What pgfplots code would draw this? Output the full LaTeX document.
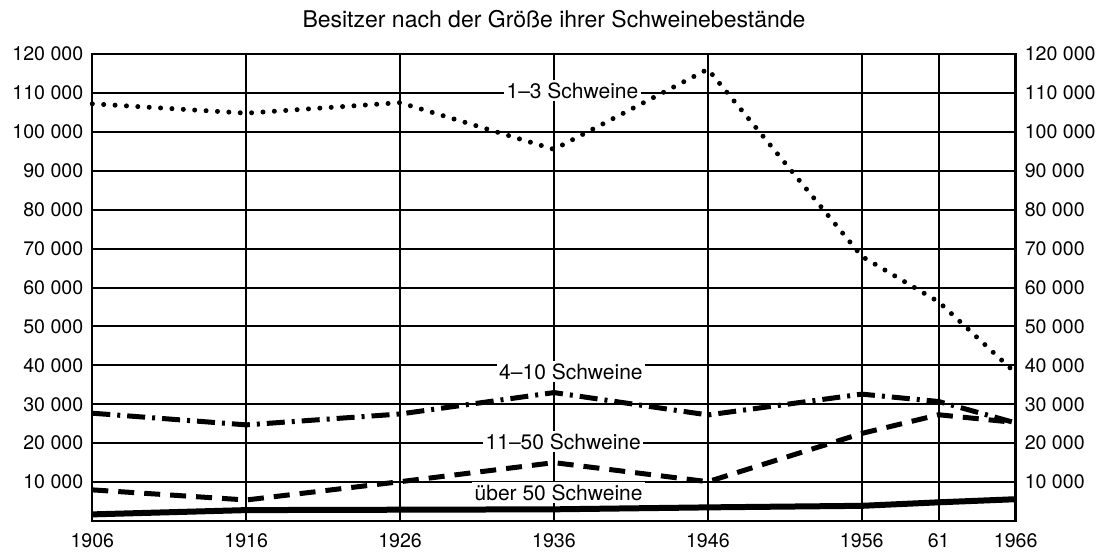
\documentclass[border=0pt]{standalone}
\usepackage{pgfplots}
\pgfplotsset{compat=1.18}
\usepackage{fontspec}
\setmainfont{TeX Gyre Heros}
\begin{document}
\begin{tikzpicture}
\useasboundingbox (-46.15pt,-16pt) rectangle (506.35pt,260.5pt);
\pgfplotsset{
  common/.style={
    at={(0,0)}, anchor=south west, scale only axis,
    width=461.7pt, height=233.5pt,
    xmin=1906, xmax=1966, ymin=0, ymax=120000,
    scaled y ticks=false,
    ytick={10000,20000,...,120000},
    yticklabels={10 000,20 000,30 000,40 000,50 000,60 000,70 000,80 000,90 000,100 000,110 000,120 000},
    tick style={draw=none},
    ticklabel style={font=\fontsize{9.8}{12}\selectfont},
    /pgf/number format/assume math mode=true,
  }
}
\begin{axis}[common,
  xtick={1906,1916,1926,1936,1946,1956,1961,1966},
  xticklabels={1906,1916,1926,1936,1946,1956,61,1966},
  xticklabel style={yshift=-3pt},
  yticklabel style={xshift=-1pt},
  grid=major, major grid style={black, line width=1pt},
  axis line style={line width=1.2pt},
  clip=false]
\addplot[black, line width=2.5pt, line cap=round, dash pattern=on 0pt off 5.7pt] coordinates {
(1906,107200) (1916,104800) (1926,107500) (1936,95500) (1946,116100) (1956,68000) (1961,56300) (1966,38000)};
\addplot[black, line width=2.5pt, dash pattern=on 9pt off 3.5pt on 1.5pt off 3.5pt] coordinates {
(1906,27700) (1916,24700) (1926,27500) (1936,33000) (1946,27250) (1956,32600) (1961,30700) (1966,25200)};
\addplot[black, line width=2.5pt, dash pattern=on 8pt off 5pt] coordinates {
(1906,8000) (1916,5400) (1926,10100) (1936,15000) (1946,10100) (1956,22500) (1961,27300) (1966,25300)};
\addplot[black, line width=3pt] coordinates {
(1906,1700) (1916,2800) (1926,2900) (1936,3000) (1946,3500) (1956,3900) (1961,4800) (1966,5600)};
\begin{scope}[every node/.style={fill=white, inner sep=1.2pt, font=\fontsize{10.5}{12}\selectfont}]
\node at (axis cs:1937.2,110600) {1–3 Schweine};
\node at (axis cs:1937.1,38400) {4–10 Schweine};
\node at (axis cs:1936.6,20400) {11–50 Schweine};
\node at (axis cs:1936.3,7300) {über 50 Schweine};
\end{scope}
\node[font=\fontsize{11.5}{13}\selectfont] at (rel axis cs:0.5,1) [yshift=17.5pt] {Besitzer nach der Größe ihrer Schweinebestände};
\end{axis}
\begin{axis}[common,
  xtick=\empty, yticklabel pos=right,
  yticklabel style={xshift=1pt},
  axis line style={draw=none}]
\end{axis}
\end{tikzpicture}
\end{document}
